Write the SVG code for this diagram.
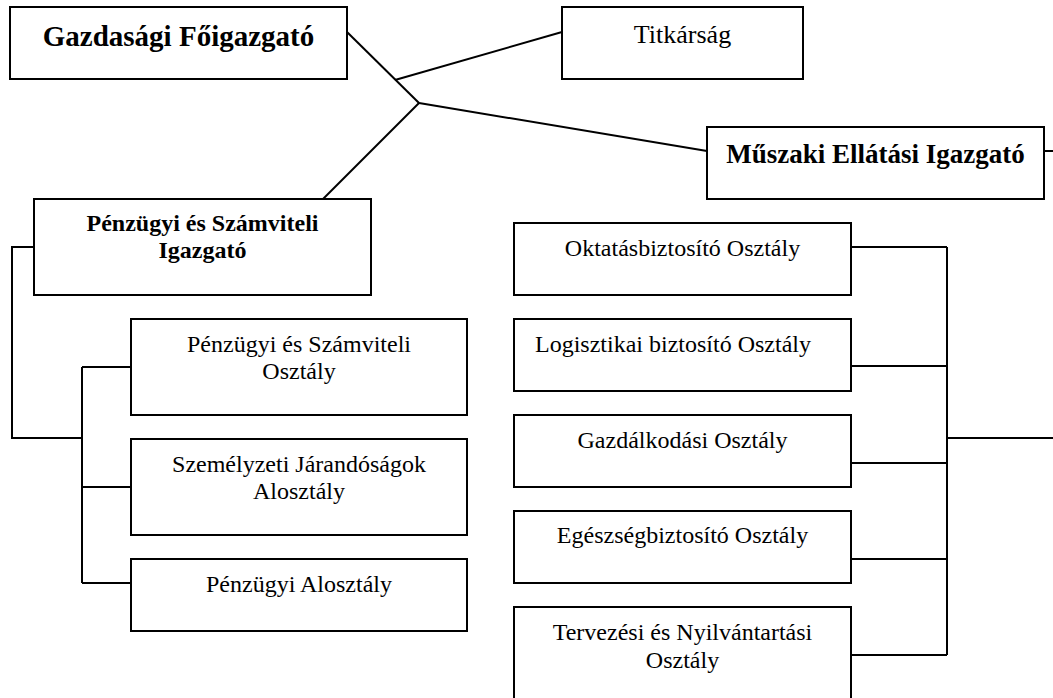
<svg xmlns="http://www.w3.org/2000/svg" width="1053" height="698" viewBox="0 0 1053 698">
  <style>
    .box { fill: #ffffff; stroke: #000000; stroke-width: 2; }
    .link { fill: none; stroke: #000000; stroke-width: 2; }
    text { font-family: "Liberation Serif", "Times New Roman", serif; fill: #000000; text-anchor: middle; }
    .lbl { font-size: 24px; }
    .head { font-weight: bold; }
  </style>
  <rect width="1053" height="698" fill="#ffffff"/>

  <!-- connectors -->
  <g id="connectors">
    <polyline class="link" points="347,32 419,103"/>
    <polyline class="link" points="395,80 562,32"/>
    <polyline class="link" points="419,103 707,151"/>
    <polyline class="link" points="419,103 323,199"/>
    <polyline class="link" points="1044,151 1053,151"/>
    <!-- financial branch -->
    <polyline class="link" points="34,247 12,247 12,438 82,438"/>
    <polyline class="link" points="82,367 82,583"/>
    <polyline class="link" points="82,367 131,367"/>
    <polyline class="link" points="82,487 131,487"/>
    <polyline class="link" points="82,583 131,583"/>
    <!-- technical supply branch -->
    <polyline class="link" points="947,247 947,655"/>
    <polyline class="link" points="851,247 947,247"/>
    <polyline class="link" points="851,366 947,366"/>
    <polyline class="link" points="851,463 947,463"/>
    <polyline class="link" points="851,559 947,559"/>
    <polyline class="link" points="851,655 947,655"/>
    <polyline class="link" points="947,438 1053,438"/>
  </g>

  <g id="gazdasagi-foigazgato">
    <rect class="box" x="10" y="7" width="337" height="72"/>
    <text class="head" x="178.5" y="46" font-size="29">Gazdasági Főigazgató</text>
  </g>

  <g id="titkarsag">
    <rect class="box" x="562" y="7" width="241" height="72"/>
    <text x="682.5" y="43" font-size="26">Titkárság</text>
  </g>

  <g id="muszaki-ellatasi-igazgato">
    <rect class="box" x="707" y="127" width="337" height="72"/>
    <text class="head" x="875.5" y="163" font-size="27">Műszaki Ellátási Igazgató</text>
  </g>

  <g id="penzugyi-szamviteli-igazgato">
    <rect class="box" x="34" y="199" width="337" height="96"/>
    <text class="head" x="202.5" y="231" font-size="24">Pénzügyi és Számviteli</text>
    <text class="head" x="202.5" y="258" font-size="24">Igazgató</text>
  </g>

  <g id="penzugyi-szamviteli-osztaly">
    <rect class="box" x="131" y="319" width="336" height="96"/>
    <text class="lbl" x="299" y="352">Pénzügyi és Számviteli</text>
    <text class="lbl" x="299" y="379">Osztály</text>
  </g>

  <g id="szemelyzeti-jarandosagok-alosztaly">
    <rect class="box" x="131" y="439" width="336" height="96"/>
    <text class="lbl" x="299" y="472">Személyzeti Járandóságok</text>
    <text class="lbl" x="299" y="499">Alosztály</text>
  </g>

  <g id="penzugyi-alosztaly">
    <rect class="box" x="131" y="559" width="336" height="72"/>
    <text class="lbl" x="299" y="592">Pénzügyi Alosztály</text>
  </g>

  <g id="oktatasbiztosito-osztaly">
    <rect class="box" x="514" y="223" width="337" height="72"/>
    <text class="lbl" x="682.5" y="256">Oktatásbiztosító Osztály</text>
  </g>

  <g id="logisztikai-biztosito-osztaly">
    <rect class="box" x="514" y="319" width="337" height="72"/>
    <text class="lbl" x="673" y="352">Logisztikai biztosító Osztály</text>
  </g>

  <g id="gazdalkodasi-osztaly">
    <rect class="box" x="514" y="415" width="337" height="72"/>
    <text class="lbl" x="682.5" y="448">Gazdálkodási Osztály</text>
  </g>

  <g id="egeszsegbiztosito-osztaly">
    <rect class="box" x="514" y="511" width="337" height="72"/>
    <text class="lbl" x="682.5" y="543">Egészségbiztosító Osztály</text>
  </g>

  <g id="tervezesi-nyilvantartasi-osztaly">
    <rect class="box" x="514" y="607" width="337" height="96"/>
    <text class="lbl" x="682.5" y="640">Tervezési és Nyilvántartási</text>
    <text class="lbl" x="682.5" y="668">Osztály</text>
  </g>
</svg>
